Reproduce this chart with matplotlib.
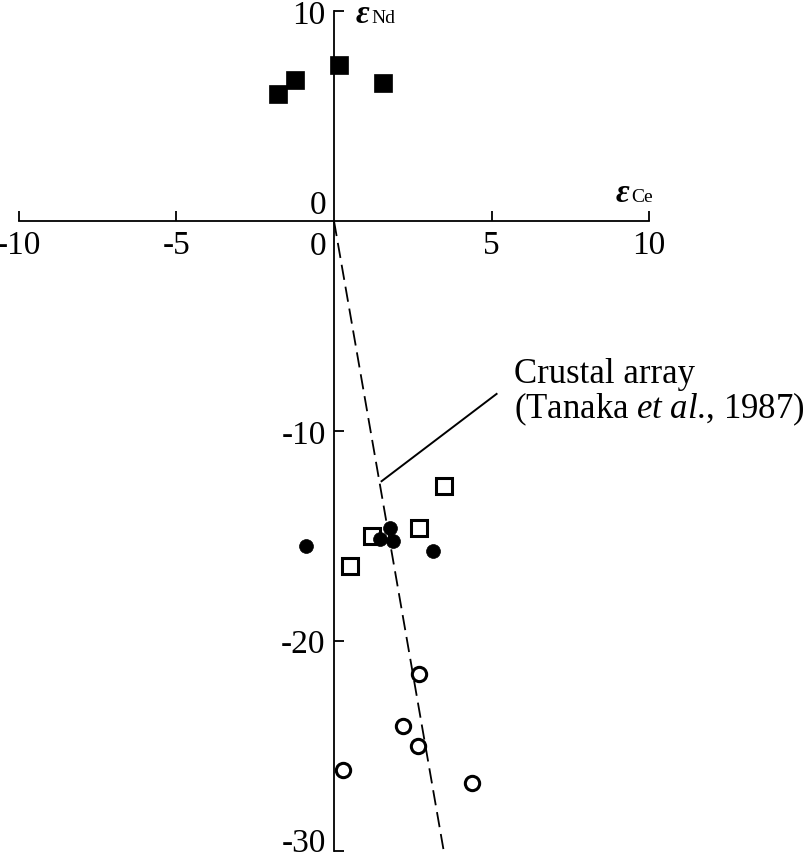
import matplotlib
matplotlib.use('Agg')
import matplotlib.pyplot as plt

plt.rcParams['font.family'] = ['Liberation Serif', 'DejaVu Serif']
plt.rcParams['mathtext.fontset'] = 'custom'
plt.rcParams['mathtext.rm'] = 'Liberation Serif'
plt.rcParams['mathtext.it'] = 'Liberation Serif:italic'
plt.rcParams['lines.scale_dashes'] = False

# Data (eps_Ce, eps_Nd)
filled_sq_x = [-1.77, -1.24, 0.16, 1.55]
filled_sq_y = [6.03, 6.73, 7.42, 6.57]

open_sq_x = [3.49, 2.70, 1.20, 0.51]
open_sq_y = [-12.63, -14.62, -14.99, -16.43]

filled_ci_x = [-0.89, 1.78, 1.46, 1.86, 3.13]
filled_ci_y = [-15.47, -14.62, -15.15, -15.26, -15.74]

open_ci_x = [2.71, 2.20, 2.66, 0.30, 4.37]
open_ci_y = [-21.61, -24.05, -25.00, -26.15, -26.76]

# crustal array line (Tanaka et al., 1987)
array_x = [0.0, 3.48]
array_y = [0.0, -30.0]

xticks = [-10, -5, 5, 10]
xticklabels = ['-10', '-5', '5', '10']
yticks = [10, -10, -20, -30]
yticklabels = ['10', '-10', '-20', '-30']

fig = plt.figure(figsize=(8.12, 8.62), dpi=100)
ax = fig.add_axes([0, 0, 1, 1])
ax.set_xlim(-10.60, 15.17)
ax.set_ylim(-30.50, 10.58)

# axes crossing at the origin
for s in ['top', 'right']:
    ax.spines[s].set_visible(False)
ax.spines['left'].set_position(('data', 0))
ax.spines['bottom'].set_position(('data', 0))
ax.spines['left'].set_bounds(-30, 10)
ax.spines['bottom'].set_bounds(-10, 10)
for s in ['left', 'bottom']:
    ax.spines[s].set_linewidth(1.3)

ax.set_xticks(xticks)
ax.set_xticklabels(xticklabels)
ax.set_yticks(yticks)
ax.set_yticklabels(yticklabels)
ax.tick_params(direction='in', length=7, width=1.3, labelsize=24, pad=6)
# keep the bottom label inside the picture
ax.get_yticklabels()[-1].set_verticalalignment('baseline')
ax.get_yticklabels()[-1].set_y(-30.47)

# the two zeros
ax.text(-0.51, -0.45, '0', fontsize=24, ha='center', va='top')
ax.text(-0.51, 0.05, '0', fontsize=24, ha='center', va='bottom')

# axis names
ax.text(0.70, 9.50, 'ε', fontsize=24, fontweight='bold', fontstyle='italic', va='baseline')
ax.text(1.20, 9.50, 'Nd', fontsize=14, va='baseline')
ax.text(8.95, 0.95, 'ε', fontsize=24, fontweight='bold', fontstyle='italic', va='baseline')
ax.text(9.43, 0.95, 'Ce', fontsize=14, va='baseline')

# crustal array
ax.plot(array_x, array_y, color='black', lw=1.3, dashes=(11, 5))
ax.plot([1.51, 5.16], [-12.4, -8.24], color='black', lw=1.4)
ax.text(5.71, -7.65, 'Crustal array', fontsize=25, va='baseline')
ax.text(5.71, -9.35, r'(Tanaka $et\ al$., 1987)', fontsize=25, va='baseline')

# samples
ax.plot(filled_sq_x, filled_sq_y, 's', ms=13, color='black', mew=0.5)
ax.plot(open_sq_x, open_sq_y, 's', ms=11.5, mfc='white', mec='black', mew=2.2)
ax.plot(filled_ci_x, filled_ci_y, 'o', ms=10, color='black', mew=0.5)
ax.plot(open_ci_x, open_ci_y, 'o', ms=10.3, mfc='white', mec='black', mew=2.2)

fig.savefig('out.png', dpi=100)
